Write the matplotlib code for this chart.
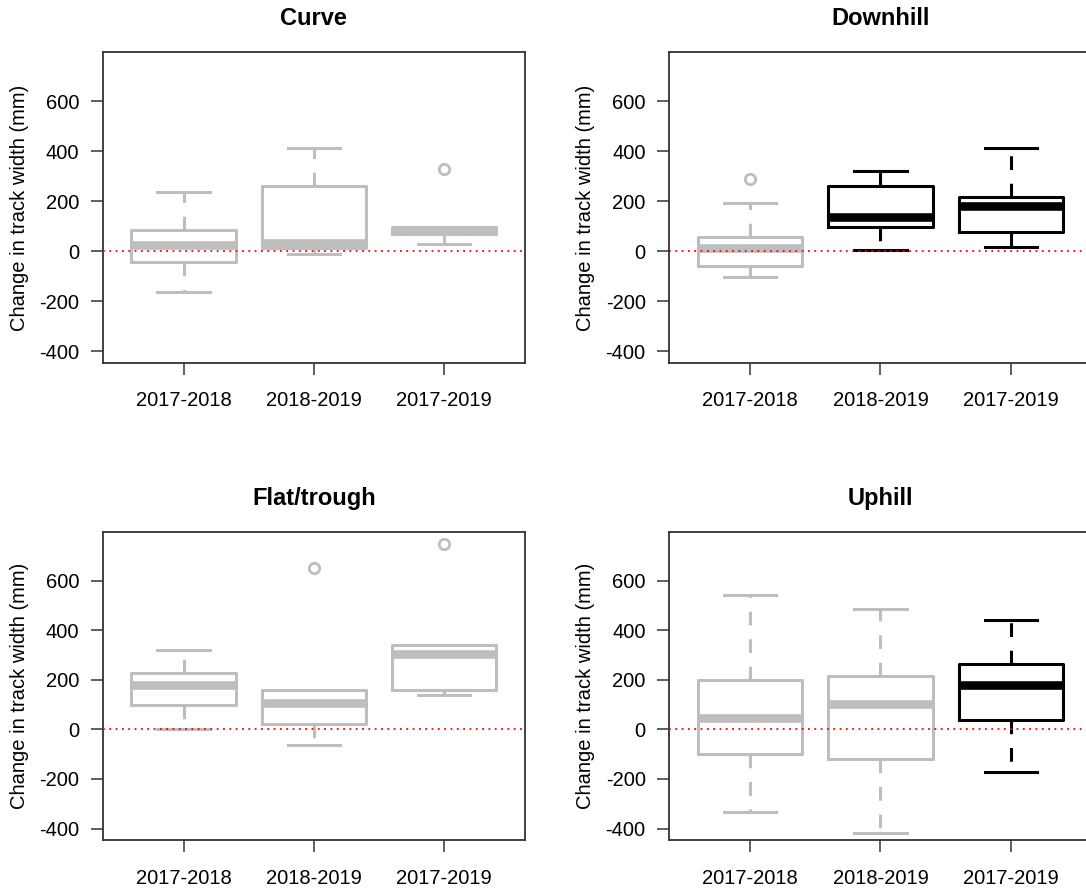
import numpy as np
import matplotlib
matplotlib.use("Agg")
import matplotlib.pyplot as plt

# periods on the x axis
groups = ["2017-2018", "2018-2019", "2017-2019"]

# box stats (mm)
curve_q1 = [-42, 12, 68]
curve_med = [23, 34, 82]
curve_q3 = [85, 259, 98]
curve_lo = [-164, -11, 27]
curve_hi = [237, 411, 98]
curve_out = [[], [], [329]]
curve_dark = [False, False, False]

downhill_q1 = [-58, 97, 75]
downhill_med = [13, 136, 180]
downhill_q3 = [57, 259, 218]
downhill_lo = [-105, 5, 15]
downhill_hi = [191, 322, 411]
downhill_out = [[290], [], []]
downhill_dark = [False, True, True]

flat_q1 = [99, 20, 157]
flat_med = [178, 106, 304]
flat_q3 = [228, 157, 339]
flat_lo = [0, -63, 137]
flat_hi = [320, 157, 339]
flat_out = [[], [650], [746]]
flat_dark = [False, False, False]

uphill_q1 = [-99, -118, 36]
uphill_med = [47, 104, 177]
uphill_q3 = [198, 216, 264]
uphill_lo = [-333, -419, -171]
uphill_hi = [540, 487, 442]
uphill_out = [[], [], []]
uphill_dark = [False, False, True]

panels = [
    ("Curve", curve_q1, curve_med, curve_q3, curve_lo, curve_hi, curve_out, curve_dark),
    ("Downhill", downhill_q1, downhill_med, downhill_q3, downhill_lo, downhill_hi, downhill_out, downhill_dark),
    ("Flat/trough", flat_q1, flat_med, flat_q3, flat_lo, flat_hi, flat_out, flat_dark),
    ("Uphill", uphill_q1, uphill_med, uphill_q3, uphill_lo, uphill_hi, uphill_out, uphill_dark),
]

plt.rcParams['font.family'] = ['Liberation Sans', 'DejaVu Sans']
plt.rcParams['font.size'] = 14.5
plt.rcParams['axes.unicode_minus'] = False  # R style plain hyphen

fig = plt.figure(figsize=(10.86, 8.92), dpi=100)

# axes boxes [left, bottom, width, height]
rects = [
    [0.0946, 0.5934, 0.3889, 0.348],
    [0.6163, 0.5934, 0.3889, 0.348],
    [0.0946, 0.0583, 0.3889, 0.3453],
    [0.6163, 0.0583, 0.3889, 0.3453],
]

grey = "#BEBEBE"

for rect, (title, q1, med, q3, lo, hi, out, dark) in zip(rects, panels):
    ax = fig.add_axes(rect)
    for i in range(3):
        col = "black" if dark[i] else grey
        st = [{"med": med[i], "q1": q1[i], "q3": q3[i],
               "whislo": lo[i], "whishi": hi[i], "fliers": out[i]}]
        ax.bxp(st, positions=[i + 1], widths=0.8, capwidths=0.4,
               boxprops=dict(color=col, linewidth=2.2),
               whiskerprops=dict(color=col, linewidth=2.2, linestyle=(0, (4.5, 4.5))),
               capprops=dict(color=col, linewidth=2.2),
               medianprops=dict(color=col, linewidth=6.2, solid_capstyle="butt"),
               flierprops=dict(marker="o", markerfacecolor="none", markeredgecolor=col,
                               markersize=7.5, markeredgewidth=2.0),
               manage_ticks=False)
    # zero reference line
    ax.axhline(0, color="red", linewidth=1.3, linestyle=(0, (1, 2.5)), zorder=10)

    ax.set_xlim(0.38, 3.62)
    ax.set_ylim(-446, 796)
    ax.set_xticks([1, 2, 3])
    ax.set_xticklabels(groups)
    ax.set_yticks([-400, -200, 0, 200, 400, 600])
    ax.tick_params(axis="x", length=8.6, width=1.1, pad=12, color="#333333")
    ax.tick_params(axis="y", length=8.6, width=1.1, pad=8.4, color="#333333")
    for sp in ax.spines.values():
        sp.set_linewidth(1.3)
        sp.set_color("#333333")
    ax.set_ylabel("Change in track width (mm)")
    ax.yaxis.set_label_coords(-0.175, 0.5)
    ax.set_title(title, fontsize=17, fontweight="bold", pad=19.5)

fig.savefig("out.png", dpi=100)
